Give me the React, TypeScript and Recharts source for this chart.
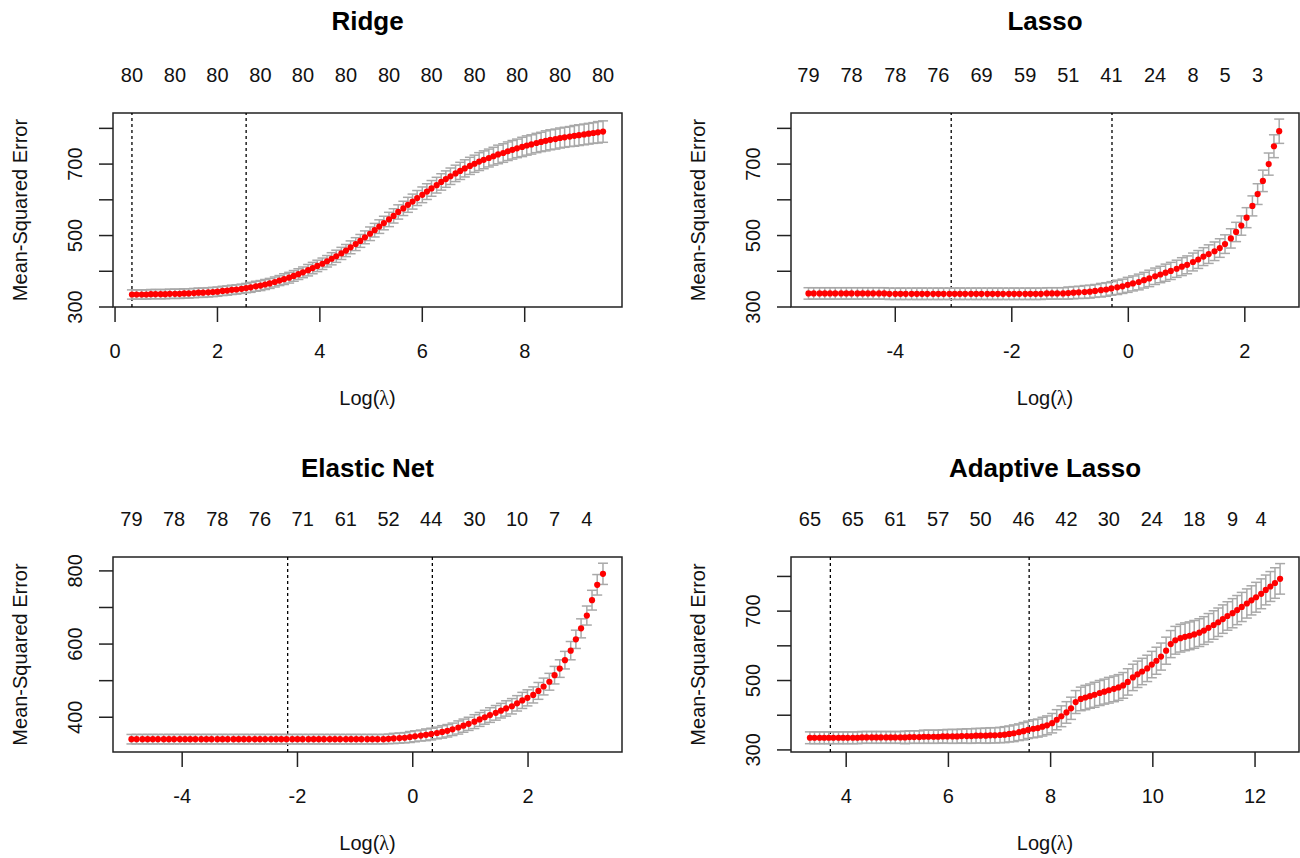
import React from 'react';
import {
  ScatterChart,
  Scatter,
  XAxis,
  YAxis,
  ErrorBar,
  ReferenceLine,
  ReferenceArea,
} from 'recharts';

const FONT = '"Liberation Sans", Arial, Helvetica, sans-serif';

// ---- Ridge ----
const ridgeLogLambda = [
  0.33, 0.42, 0.52, 0.61, 0.70, 0.79, 0.89, 0.98, 1.07, 1.17,
  1.26, 1.35, 1.44, 1.54, 1.63, 1.72, 1.82, 1.91, 2.00, 2.10,
  2.19, 2.28, 2.37, 2.47, 2.56, 2.65, 2.75, 2.84, 2.93, 3.02,
  3.12, 3.21, 3.30, 3.40, 3.49, 3.58, 3.67, 3.77, 3.86, 3.95,
  4.05, 4.14, 4.23, 4.32, 4.42, 4.51, 4.60, 4.70, 4.79, 4.88,
  4.98, 5.07, 5.16, 5.25, 5.35, 5.44, 5.53, 5.63, 5.72, 5.81,
  5.90, 6.00, 6.09, 6.18, 6.28, 6.37, 6.46, 6.55, 6.65, 6.74,
  6.83, 6.93, 7.02, 7.11, 7.20, 7.30, 7.39, 7.48, 7.58, 7.67,
  7.76, 7.85, 7.95, 8.04, 8.13, 8.23, 8.32, 8.41, 8.50, 8.60,
  8.69, 8.78, 8.88, 8.97, 9.06, 9.16, 9.25, 9.34, 9.43, 9.53,
];
const ridgeMse = [
  335, 335, 335, 335, 336, 336, 336, 336, 337, 337,
  337, 338, 338, 339, 340, 340, 341, 342, 343, 345,
  346, 348, 349, 351, 353, 355, 358, 360, 363, 366,
  370, 374, 378, 382, 387, 392, 397, 403, 409, 415,
  421, 428, 435, 442, 450, 458, 467, 476, 485, 495,
  505, 515, 525, 535, 545, 555, 566, 576, 586, 595,
  605, 614, 623, 632, 641, 650, 658, 666, 674, 681,
  688, 695, 701, 707, 712, 717, 722, 727, 731, 736,
  740, 744, 748, 752, 755, 759, 762, 765, 768, 770,
  773, 775, 777, 779, 781, 783, 785, 787, 789, 791,
];
const ridgeSe = [
  13, 13, 13, 13, 13, 13, 13, 13, 13, 13,
  13, 13, 13, 13, 13, 13, 13, 13, 13, 13,
  13, 13, 13, 13, 13, 14, 14, 14, 14, 14,
  14, 14, 15, 15, 15, 15, 15, 16, 16, 16,
  16, 16, 17, 17, 17, 17, 18, 18, 18, 18,
  19, 19, 19, 19, 20, 20, 20, 20, 21, 21,
  21, 22, 22, 22, 22, 23, 23, 23, 23, 24,
  24, 24, 24, 25, 25, 25, 25, 26, 26, 26,
  26, 26, 27, 27, 27, 27, 27, 28, 28, 28,
  28, 28, 28, 29, 29, 29, 29, 29, 30, 30,
];
const ridgeTopAt = [0.33, 1.17, 2.00, 2.84, 3.67, 4.51, 5.35, 6.18, 7.02, 7.85, 8.69, 9.53];
const ridgeTopLabels = ['80', '80', '80', '80', '80', '80', '80', '80', '80', '80', '80', '80'];
const ridgeCutoffs = [0.33, 2.56];

// ---- Lasso ----
const lassoLogLambda = [
  -5.49, -5.40, -5.30, -5.21, -5.12, -5.03, -4.93, -4.84, -4.75, -4.65,
  -4.56, -4.47, -4.38, -4.28, -4.19, -4.10, -4.00, -3.91, -3.82, -3.72,
  -3.63, -3.54, -3.45, -3.35, -3.26, -3.17, -3.07, -2.98, -2.89, -2.80,
  -2.70, -2.61, -2.52, -2.42, -2.33, -2.24, -2.15, -2.05, -1.96, -1.87,
  -1.77, -1.68, -1.59, -1.50, -1.40, -1.31, -1.22, -1.12, -1.03, -0.94,
  -0.85, -0.75, -0.66, -0.57, -0.47, -0.38, -0.29, -0.19, -0.10, -0.01,
  0.08, 0.18, 0.27, 0.36, 0.46, 0.55, 0.64, 0.73, 0.83, 0.92,
  1.01, 1.11, 1.20, 1.29, 1.38, 1.48, 1.57, 1.66, 1.76, 1.85,
  1.94, 2.03, 2.13, 2.22, 2.31, 2.41, 2.50, 2.59,
];
const lassoMse = [
  338, 338, 338, 338, 338, 338, 338, 338, 338, 338,
  338, 338, 338, 338, 338, 337, 337, 337, 337, 337,
  337, 337, 337, 337, 337, 337, 337, 337, 337, 337,
  337, 337, 337, 337, 337, 337, 337, 337, 337, 337,
  337, 337, 337, 337, 338, 338, 338, 338, 339, 340,
  341, 342, 343, 345, 347, 349, 352, 355, 358, 362,
  366, 370, 375, 380, 386, 391, 396, 401, 407, 413,
  418, 426, 433, 441, 448, 456, 465, 476, 492, 510,
  528, 550, 583, 616, 653, 700, 750, 792,
];
const lassoSe = [
  16, 16, 16, 16, 16, 16, 16, 16, 16, 16,
  16, 16, 16, 16, 16, 16, 16, 16, 16, 16,
  16, 16, 16, 16, 16, 16, 16, 16, 16, 16,
  16, 16, 16, 16, 16, 16, 16, 16, 16, 16,
  16, 16, 16, 16, 16, 16, 16, 16, 17, 17,
  17, 18, 18, 18, 19, 19, 19, 20, 20, 21,
  21, 22, 22, 23, 23, 23, 24, 24, 24, 25,
  25, 25, 25, 25, 26, 26, 26, 26, 27, 27,
  27, 28, 28, 29, 30, 31, 32, 34,
];
const lassoTopAt = [-5.49, -4.75, -4.00, -3.26, -2.52, -1.77, -1.03, -0.29, 0.46, 1.11, 1.66, 2.22];
const lassoTopLabels = ['79', '78', '78', '76', '69', '59', '51', '41', '24', '8', '5', '3'];
const lassoCutoffs = [-3.04, -0.28];

// ---- Elastic Net ----
const elasticLogLambda = [
  -4.88, -4.79, -4.69, -4.60, -4.51, -4.42, -4.32, -4.23, -4.14, -4.04,
  -3.95, -3.86, -3.77, -3.67, -3.58, -3.49, -3.39, -3.30, -3.21, -3.11,
  -3.02, -2.93, -2.84, -2.74, -2.65, -2.56, -2.46, -2.37, -2.28, -2.19,
  -2.09, -2.00, -1.91, -1.81, -1.72, -1.63, -1.54, -1.44, -1.35, -1.26,
  -1.16, -1.07, -0.98, -0.89, -0.79, -0.70, -0.61, -0.51, -0.42, -0.33,
  -0.23, -0.14, -0.05, 0.04, 0.14, 0.23, 0.32, 0.42, 0.51, 0.60,
  0.69, 0.79, 0.88, 0.97, 1.07, 1.16, 1.25, 1.34, 1.44, 1.53,
  1.62, 1.72, 1.81, 1.90, 1.99, 2.09, 2.18, 2.27, 2.37, 2.46,
  2.55, 2.64, 2.74, 2.83, 2.92, 3.02, 3.11, 3.20, 3.30,
];
const elasticMse = [
  340, 340, 340, 340, 340, 340, 340, 340, 340, 340,
  340, 340, 340, 340, 340, 340, 340, 340, 340, 340,
  340, 340, 340, 340, 340, 340, 340, 340, 340, 340,
  340, 340, 340, 340, 340, 340, 340, 340, 340, 340,
  340, 340, 340, 340, 340, 340, 340, 340, 341, 342,
  343, 344, 346, 348, 350, 352, 354, 357, 360, 363,
  367, 372, 377, 382, 388, 394, 400, 406, 412, 418,
  424, 430, 438, 446, 453, 461, 472, 484, 497, 515,
  533, 556, 582, 613, 643, 678, 720, 762, 792,
];
const elasticSe = [
  13, 13, 13, 13, 13, 13, 13, 13, 13, 13,
  13, 13, 13, 13, 13, 13, 13, 13, 13, 13,
  13, 13, 13, 13, 13, 13, 13, 13, 13, 13,
  13, 13, 13, 13, 13, 13, 13, 13, 13, 13,
  13, 13, 13, 13, 13, 13, 13, 13, 13, 14,
  14, 14, 15, 15, 15, 16, 16, 16, 17, 17,
  17, 18, 18, 18, 19, 19, 19, 20, 20, 20,
  21, 21, 21, 22, 22, 22, 23, 23, 23, 24,
  24, 24, 25, 25, 26, 26, 27, 28, 29,
];
const elasticTopAt = [-4.88, -4.14, -3.39, -2.65, -1.91, -1.16, -0.42, 0.32, 1.07, 1.81, 2.46, 3.02];
const elasticTopLabels = ['79', '78', '78', '76', '71', '61', '52', '44', '30', '10', '7', '4'];
const elasticCutoffs = [-2.17, 0.34];

// ---- Adaptive Lasso ----
const adaptiveLogLambda = [
  3.29, 3.38, 3.48, 3.57, 3.66, 3.75, 3.85, 3.94, 4.03, 4.13,
  4.22, 4.31, 4.40, 4.50, 4.59, 4.68, 4.78, 4.87, 4.96, 5.06,
  5.15, 5.24, 5.33, 5.43, 5.52, 5.61, 5.71, 5.80, 5.89, 5.98,
  6.08, 6.17, 6.26, 6.36, 6.45, 6.54, 6.63, 6.73, 6.82, 6.91,
  7.01, 7.10, 7.19, 7.28, 7.38, 7.47, 7.56, 7.66, 7.75, 7.84,
  7.93, 8.03, 8.12, 8.21, 8.31, 8.40, 8.49, 8.59, 8.68, 8.77,
  8.86, 8.96, 9.05, 9.14, 9.24, 9.33, 9.42, 9.51, 9.61, 9.70,
  9.79, 9.89, 9.98, 10.07, 10.16, 10.26, 10.35, 10.44, 10.54, 10.63,
  10.72, 10.81, 10.91, 11.00, 11.09, 11.19, 11.28, 11.37, 11.46, 11.56,
  11.65, 11.74, 11.84, 11.93, 12.02, 12.12, 12.21, 12.30, 12.39, 12.49,
];
const adaptiveMse = [
  335, 335, 335, 335, 335, 335, 335, 335, 335, 335,
  335, 336, 336, 336, 336, 336, 336, 336, 336, 336,
  336, 337, 337, 337, 338, 338, 338, 338, 339, 339,
  339, 339, 340, 340, 340, 341, 341, 341, 342, 342,
  343, 344, 346, 348, 351, 354, 358, 361, 363, 367,
  371, 377, 387, 397, 408, 420, 438, 447, 451, 455,
  459, 464, 468, 472, 476, 480, 486, 496, 509, 518,
  526, 535, 546, 557, 569, 586, 605, 616, 622, 626,
  629, 633, 638, 644, 652, 660, 668, 677, 686, 694,
  703, 712, 722, 731, 740, 750, 761, 771, 781, 793,
];
const adaptiveSe = [
  17, 17, 17, 17, 17, 17, 17, 17, 17, 17,
  17, 17, 17, 17, 17, 17, 17, 17, 17, 17,
  18, 18, 18, 18, 19, 19, 19, 19, 19, 20,
  20, 20, 20, 21, 21, 21, 21, 22, 22, 22,
  22, 23, 23, 24, 24, 25, 25, 26, 26, 27,
  27, 28, 29, 30, 31, 32, 33, 34, 35, 35,
  36, 36, 36, 37, 37, 37, 37, 38, 38, 38,
  38, 38, 38, 39, 39, 39, 39, 40, 40, 40,
  40, 40, 40, 40, 41, 41, 41, 41, 41, 42,
  42, 42, 42, 42, 43, 43, 43, 43, 44, 44,
];
const adaptiveTopAt = [3.29, 4.13, 4.96, 5.80, 6.63, 7.47, 8.31, 9.14, 9.98, 10.81, 11.56, 12.12];
const adaptiveTopLabels = ['65', '65', '61', '57', '50', '46', '42', '30', '24', '18', '9', '4'];
const adaptiveCutoffs = [3.69, 7.58];

const W = 650;
const H = 429;

// plot box inside each 650x429 panel
type Box = { left: number; top: number; right: number; bottom: number };

interface PanelProps {
  title: string;
  left: number;
  top: number;
  box: Box;
  titleY: number;
  logLambda: number[];
  mse: number[];
  se: number[];
  xDomain: [number, number];
  yDomain: [number, number];
  xTicks: number[];
  yTicks: number[];
  yLabelTicks: number[];
  topAt: number[];
  topLabels: string[];
  cutoffs: number[];
}

const txt = { fontFamily: FONT, fontSize: 20, fill: '#111' };

const Panel: React.FC<PanelProps> = (p) => {
  const data = p.logLambda.map((x, i) => ({ x, mse: p.mse[i], se: p.se[i] }));
  const { box } = p;
  // axes take 1px each, so margins stop 1px short of the box
  const margin = {
    top: box.top - 1,
    left: box.left - 1,
    bottom: H - box.bottom - 1,
    right: W - box.right,
  };

  const bottomTick = (props: any) => (
    <text x={props.x} y={box.bottom + 51} textAnchor="middle" {...txt}>
      {props.payload.value}
    </text>
  );
  const topTick = (props: any) => {
    const i = p.topAt.indexOf(props.payload.value);
    return (
      <text x={props.x} y={box.top - 31} textAnchor="middle" {...txt}>
        {i >= 0 ? p.topLabels[i] : ''}
      </text>
    );
  };
  const leftTick = (props: any) => {
    const v = props.payload.value;
    if (!p.yLabelTicks.includes(v)) return <g />;
    const x = box.left - 31;
    return (
      <text x={x} y={props.y} transform={`rotate(-90, ${x}, ${props.y})`} textAnchor="middle" {...txt}>
        {v}
      </text>
    );
  };

  return (
    <div style={{ position: 'absolute', left: p.left, top: p.top, width: W, height: H }}>
      <ScatterChart width={W} height={H} margin={margin}>
        <XAxis
          dataKey="x"
          type="number"
          domain={p.xDomain}
          allowDataOverflow
          ticks={p.xTicks}
          interval={0}
          height={1}
          axisLine={false}
          tickSize={15}
          tickLine={{ stroke: '#222', strokeWidth: 1.5 }}
          tick={bottomTick}
        />
        <XAxis
          xAxisId="top"
          orientation="top"
          dataKey="x"
          type="number"
          domain={p.xDomain}
          allowDataOverflow
          ticks={p.topAt}
          interval={0}
          height={1}
          axisLine={false}
          tickLine={false}
          tick={topTick}
        />
        <YAxis
          dataKey="mse"
          type="number"
          domain={p.yDomain}
          allowDataOverflow
          ticks={p.yTicks}
          interval={0}
          width={1}
          axisLine={false}
          tickSize={14}
          tickLine={{ stroke: '#222', strokeWidth: 1.5 }}
          tick={leftTick}
        />
        <ReferenceArea
          x1={p.xDomain[0]}
          x2={p.xDomain[1]}
          y1={p.yDomain[0]}
          y2={p.yDomain[1]}
          fill="none"
          fillOpacity={0}
          stroke="#222"
          strokeWidth={1.5}
          ifOverflow="visible"
        />
        {p.cutoffs.map((c) => (
          <ReferenceLine key={c} x={c} stroke="#000" strokeWidth={1.3} strokeDasharray="3 3" />
        ))}
        <Scatter
          data={data}
          isAnimationActive={false}
          shape={(s: any) => <circle cx={s.cx} cy={s.cy} r={3.1} fill="#ff0000" />}
        >
          <ErrorBar
            dataKey="se"
            direction="y"
            width={5}
            stroke="#a9a9a9"
            strokeWidth={1.5}
            isAnimationActive={false}
          />
        </Scatter>
      </ScatterChart>
    </div>
  );
};

const panels: PanelProps[] = [
  {
    title: 'Ridge',
    left: 0,
    top: 0,
    box: { left: 113, top: 113, right: 622, bottom: 307 },
    titleY: 30,
    logLambda: ridgeLogLambda,
    mse: ridgeMse,
    se: ridgeSe,
    xDomain: [-0.04, 9.9],
    yDomain: [300, 843],
    xTicks: [0, 2, 4, 6, 8],
    yTicks: [300, 400, 500, 600, 700, 800],
    yLabelTicks: [300, 500, 700],
    topAt: ridgeTopAt,
    topLabels: ridgeTopLabels,
    cutoffs: ridgeCutoffs,
  },
  {
    title: 'Lasso',
    left: 650,
    top: 0,
    box: { left: 141, top: 113, right: 649, bottom: 307 },
    titleY: 30,
    logLambda: lassoLogLambda,
    mse: lassoMse,
    se: lassoSe,
    xDomain: [-5.79, 2.93],
    yDomain: [300, 843],
    xTicks: [-4, -2, 0, 2],
    yTicks: [300, 400, 500, 600, 700, 800],
    yLabelTicks: [300, 500, 700],
    topAt: lassoTopAt,
    topLabels: lassoTopLabels,
    cutoffs: lassoCutoffs,
  },
  {
    title: 'Elastic Net',
    left: 0,
    top: 429,
    box: { left: 113, top: 128, right: 622, bottom: 323 },
    titleY: 477,
    logLambda: elasticLogLambda,
    mse: elasticMse,
    se: elasticSe,
    xDomain: [-5.2, 3.63],
    yDomain: [305, 838],
    xTicks: [-4, -2, 0, 2],
    yTicks: [400, 500, 600, 700, 800],
    yLabelTicks: [400, 600, 800],
    topAt: elasticTopAt,
    topLabels: elasticTopLabels,
    cutoffs: elasticCutoffs,
  },
  {
    title: 'Adaptive Lasso',
    left: 650,
    top: 429,
    box: { left: 141, top: 128, right: 649, bottom: 323 },
    titleY: 477,
    logLambda: adaptiveLogLambda,
    mse: adaptiveMse,
    se: adaptiveSe,
    xDomain: [2.92, 12.86],
    yDomain: [294, 856],
    xTicks: [4, 6, 8, 10, 12],
    yTicks: [300, 400, 500, 600, 700, 800],
    yLabelTicks: [300, 500, 700],
    topAt: adaptiveTopAt,
    topLabels: adaptiveTopLabels,
    cutoffs: adaptiveCutoffs,
  },
];

export default function App() {
  return (
    <div style={{ position: 'absolute', left: 0, top: 0, width: 1300, height: 858, background: '#fff' }}>
      {panels.map((p) => (
        <Panel key={p.title} {...p} />
      ))}
      <svg
        width={1300}
        height={858}
        style={{ position: 'absolute', left: 0, top: 0, pointerEvents: 'none' }}
      >
        {panels.map((p) => {
          const boxLeft = p.left + p.box.left;
          const boxRight = p.left + p.box.right;
          const boxTop = p.top + p.box.top;
          const boxBottom = p.top + p.box.bottom;
          const cx = (boxLeft + boxRight) / 2;
          const cy = (boxTop + boxBottom) / 2;
          const yl = boxLeft - 86;
          return (
            <g key={p.title}>
              <text x={cx} y={p.titleY} textAnchor="middle" fontFamily={FONT} fontSize={26} fontWeight="bold" fill="#000">
                {p.title}
              </text>
              <text x={cx} y={boxBottom + 98} textAnchor="middle" {...txt}>
                Log(<tspan fontFamily='"Liberation Serif", "DejaVu Serif", serif'>λ</tspan>)
              </text>
              <text x={yl} y={cy} transform={`rotate(-90, ${yl}, ${cy})`} textAnchor="middle" {...txt}>
                Mean-Squared Error
              </text>
            </g>
          );
        })}
      </svg>
    </div>
  );
}
